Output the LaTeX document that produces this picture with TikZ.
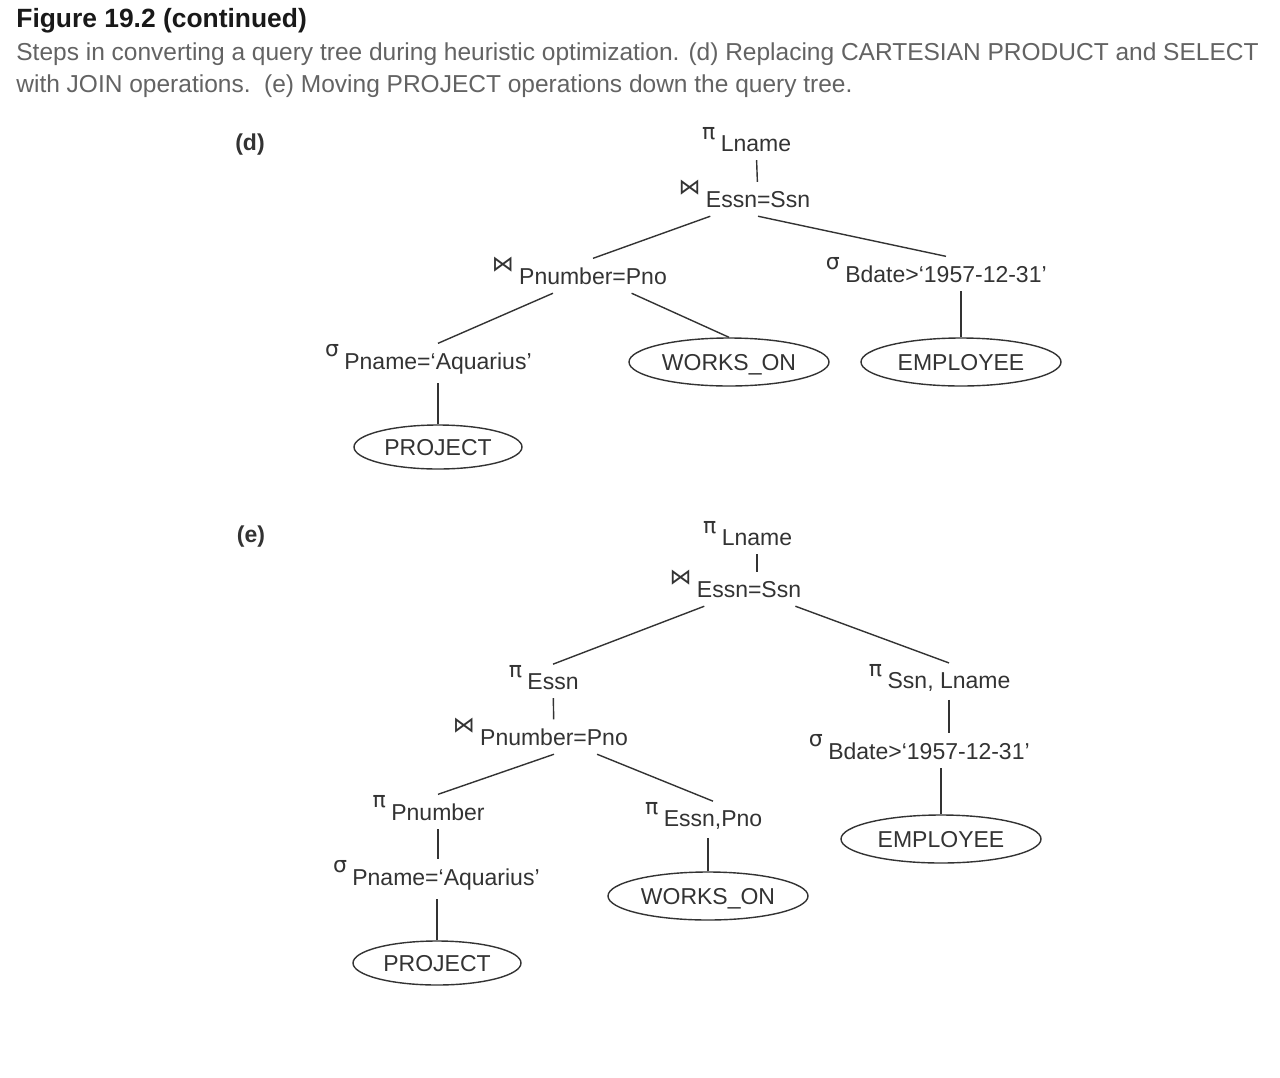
\documentclass[tikz,border=0pt]{standalone}
\usepackage{fontspec}
\setmainfont{Liberation Sans}
\newfontfamily\symfont{DejaVu Sans}
\usetikzlibrary{positioning,shapes.geometric}
\definecolor{ink}{HTML}{333333}
\definecolor{capgray}{HTML}{636363}
\newcommand{\opsym}{\symfont\fontsize{11}{12}\selectfont}
\tikzset{
  op/.style={inner xsep=2pt, inner ysep=0pt, outer xsep=0pt, outer ysep=4.5pt,
    anchor=base, text=ink,
    label={[inner sep=0.5pt, yshift=-7.5pt, font=\opsym, text=ink]north west:#1}},
  rel/.style={ellipse, draw=ink, line width=0.7pt, inner sep=0pt, text=ink,
    text height=8.3pt, text depth=0pt, minimum width=#1, minimum height=24pt},
  rel/.default=100pt,
  branch/.style={draw=ink, line width=0.7pt},
  treetag/.style={font=\fontsize{11.5}{14}\selectfont\bfseries, text=ink}
}

\begin{document}
\begin{tikzpicture}[x=0.5pt, y=-0.5pt, font=\fontsize{11.5}{14}\selectfont]
  \fill[white] (0,0) rectangle (1280,1077);
  \useasboundingbox (0,0) rectangle (1280,1077);

  \node[anchor=base west, inner sep=0pt, text=black!90,
        font=\fontsize{13.2}{16}\selectfont\bfseries] (title) at (16,27) {Figure 19.2 (continued)};
  \node[anchor=north west, inner sep=0pt, align=left, text=capgray,
        font=\fontsize{12.25}{16}\selectfont] (caption) at (16,42)
    {Steps in converting a query tree during heuristic optimization. (d) Replacing CARTESIAN PRODUCT and SELECT\\
     with JOIN operations.\ \ (e) Moving PROJECT operations down the query tree.};

  % tree (d)
  \node[treetag] (tagd) at (250,145) {(d)};
  \node[op=π] (dP) at (756,151) {Lname};
  \node[op=⋈] (dJ) at (758,207) {Essn=Ssn};
  \node[op=⋈] (dJp) at (593,284) {Pnumber=Pno};
  \node[op=σ] (dSb) at (946,282) {Bdate>`1957-12-31'};
  \node[op=σ] (dSp) at (438,369) {Pname=`Aquarius'};
  \node[rel] (dW) at (729,362) {WORKS\_ON};
  \node[rel] (dE) at (961,362) {EMPLOYEE};
  \node[rel=84pt, minimum height=22pt] (dPr) at (438,447) {PROJECT};

  \draw[branch] (dP) -- (dJ);
  \draw[branch] (dJ) -- (dJp.north);
  \draw[branch] (dJ.south) -- (dSb.north);
  \draw[branch] (dJp) -- (dSp.north);
  \draw[branch] (dJp) -- (dW.north);
  \draw[branch] (dE) -- (dE |- dSb.south);
  \draw[branch] (dPr) -- (dPr |- dSp.south);

  % tree (e)
  \node[treetag] (tage) at (251,537) {(e)};
  \node[op=π] (eP) at (757,545) {Lname};
  \node[op=⋈] (eJ) at (749,597) {Essn=Ssn};
  \node[op=π] (eEs) at (553,689) {Essn};
  \node[op=⋈] (eJp) at (554,745) {Pnumber=Pno};
  \node[op=π] (ePn) at (438,820) {Pnumber};
  \node[op=π] (eEp) at (713,826) {Essn,Pno};
  \node[op=σ] (eSp) at (446,885) {Pname=`Aquarius'};
  \node[rel] (eW) at (708,896) {WORKS\_ON};
  \node[rel=84pt, minimum height=22pt] (ePr) at (437,963) {PROJECT};
  \node[op=π] (eSl) at (949,688) {Ssn, Lname};
  \node[op=σ] (eSb) at (929,759) {Bdate>`1957-12-31'};
  \node[rel] (eE) at (941,839) {EMPLOYEE};

  \draw[branch] (eP) -- (eP |- eJ.north);
  \draw[branch] (eJ) -- (eEs.north);
  \draw[branch] (eJ) -- (eSl.north);
  \draw[branch] (eEs) -- (eJp);
  \draw[branch] (eJp.south) -- (ePn.north);
  \draw[branch] (eJp) -- (eEp.north);
  \draw[branch] (ePn) -- (ePn |- eSp.north);
  \draw[branch] (ePr) -- (ePr |- eSp.south);
  \draw[branch] (eW) -- (eW |- eEp.south);
  \draw[branch] (eSl) -- (eSl |- eSb.north);
  \draw[branch] (eE) -- (eE |- eSb.south);
\end{tikzpicture}
\end{document}
